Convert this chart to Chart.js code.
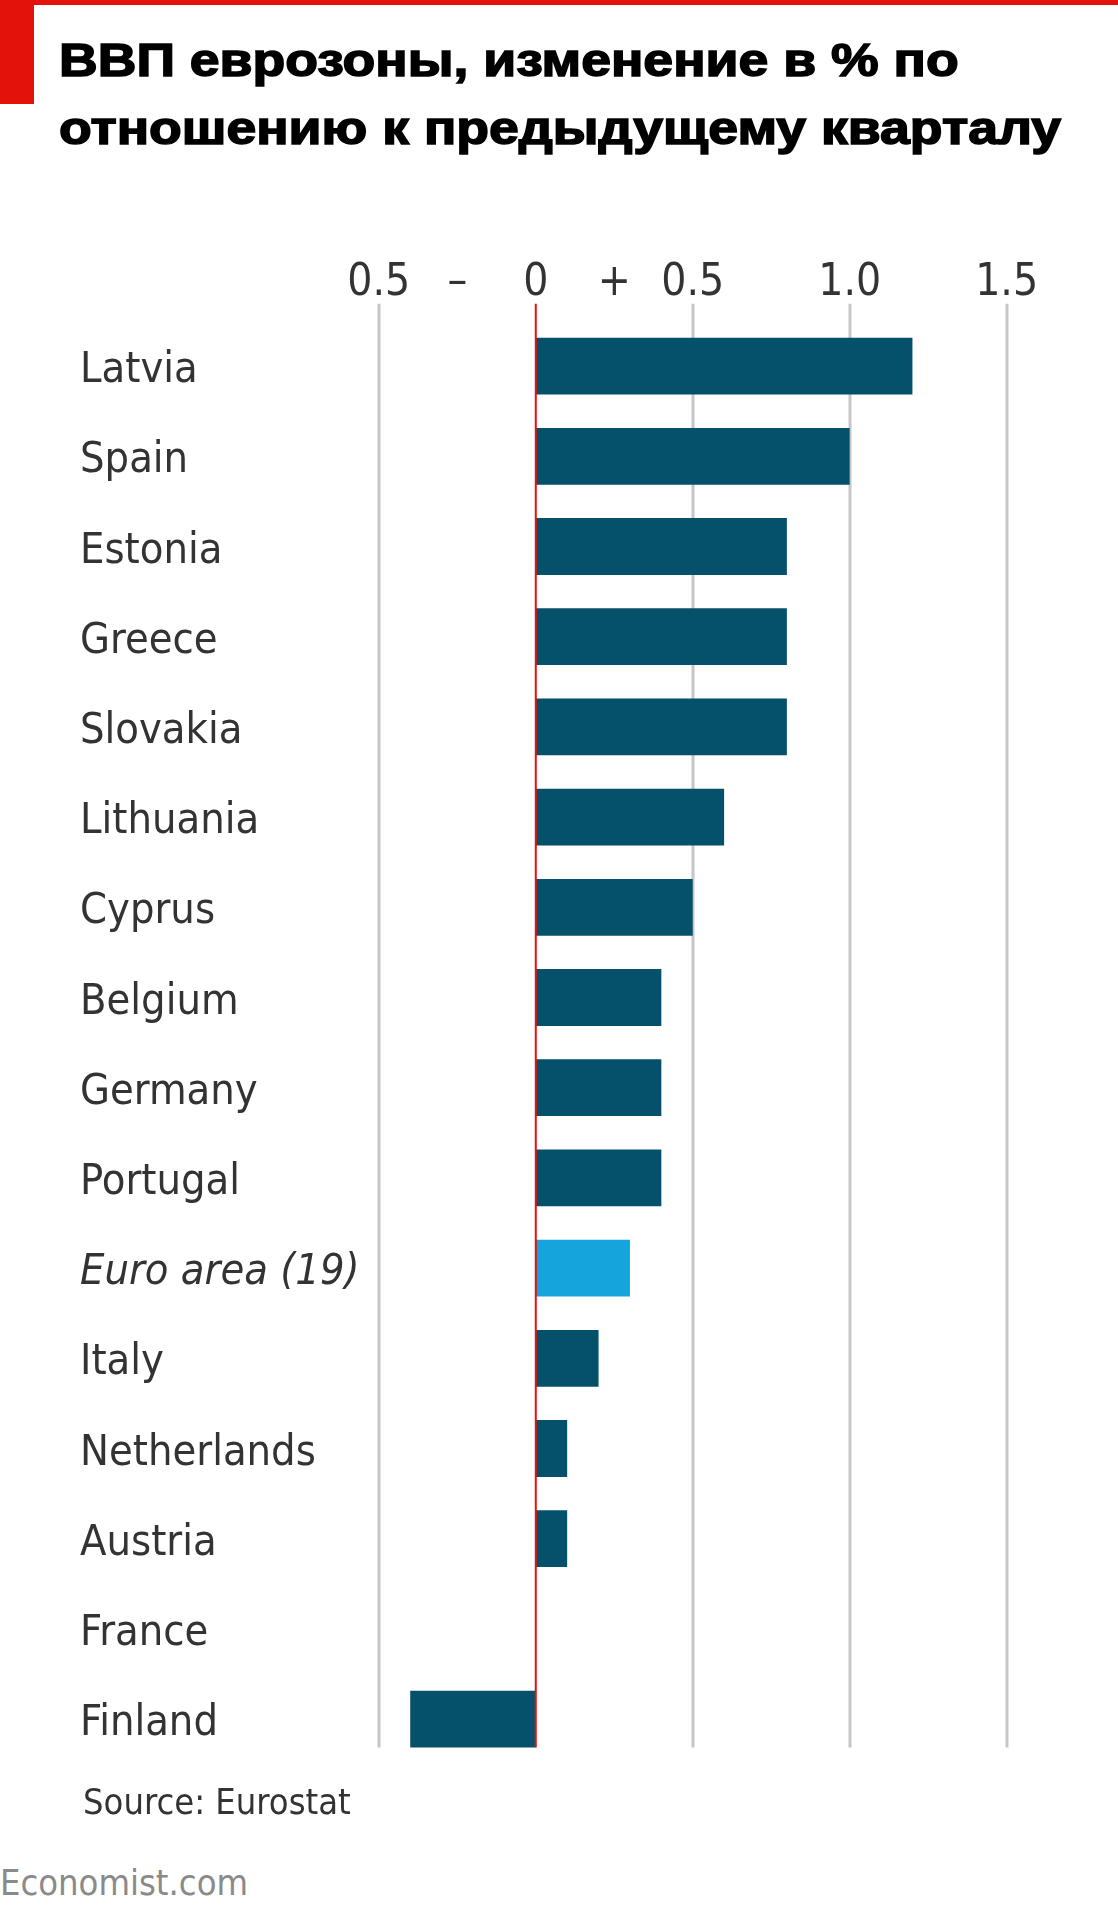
<!DOCTYPE html>
<html><head><meta charset="utf-8">
<script src="https://cdn.jsdelivr.net/npm/chart.js@4/dist/chart.umd.min.js"></script>
<style>
html,body{margin:0;padding:0;background:#fff;}
body{width:1118px;height:1920px;position:relative;overflow:hidden;}
#topbar{position:absolute;left:0;top:0;width:1118px;height:5px;background:#e3120b;}
#redblock{position:absolute;left:0;top:0;width:34px;height:104px;background:#e3120b;}
#title{position:absolute;left:59px;top:26px;font-family:"Liberation Sans",Arial,sans-serif;font-weight:bold;font-size:46px;line-height:68px;color:#000;-webkit-text-stroke:1.5px #000;white-space:nowrap;transform:scaleX(1.165);transform-origin:0 0;}
#chartwrap{position:absolute;left:0;top:200px;width:1118px;height:1590px;}
#source{position:absolute;left:83px;top:1780px;font-family:"DejaVu Sans Condensed","DejaVu Sans",sans-serif;font-size:36px;line-height:44px;color:#333;}
#brand{position:absolute;left:0;top:1861px;font-family:"DejaVu Sans Condensed","DejaVu Sans",sans-serif;font-size:36px;line-height:44px;color:#8a8a8a;}
</style>
</head><body>
<div id="topbar"></div>
<div id="redblock"></div>
<div id="title">ВВП еврозоны, изменение в % по<br>отношению к предыдущему кварталу</div>
<div id="chartwrap"><canvas id="c"></canvas></div>
<div id="source">Source: Eurostat</div>
<div id="brand">Economist.com</div>
<script>
const categories = ['Latvia','Spain','Estonia','Greece','Slovakia','Lithuania','Cyprus','Belgium','Germany','Portugal','Euro area (19)','Italy','Netherlands','Austria','France','Finland'];
const gdpChange = [1.2,1.0,0.8,0.8,0.8,0.6,0.5,0.4,0.4,0.4,0.3,0.2,0.1,0.1,0,-0.4];
const highlightCategory = 'Euro area (19)';
const tickValues = [-0.5,-0.25,0,0.25,0.5,1.0,1.5];
const tickLabels = ['0.5','–','0','+','0.5','1.0','1.5'];
const gridValues = [-0.5,0.5,1.0,1.5];

const DARK = '#05506b', LIGHT = '#14a5dc', GRID = '#c6c6c6', RED = '#e3120b', TXT = '#333333';
const FONT = '"DejaVu Sans Condensed","DejaVu Sans",sans-serif';

function gridExtent(chart) {
  const ys = chart.scales.y;
  const step = ys.getPixelForValue(1) - ys.getPixelForValue(0);
  return {
    top: ys.getPixelForValue(0) - 0.69 * step,
    bottom: ys.getPixelForValue(categories.length - 1) + 0.315 * step
  };
}

const gridPlugin = {
  id: 'customGrid',
  beforeDatasetsDraw(chart) {
    const xs = chart.scales.x, ctx = chart.ctx, e = gridExtent(chart);
    ctx.save();
    ctx.strokeStyle = GRID; ctx.lineWidth = 3;
    gridValues.forEach(v => {
      const x = Math.round(xs.getPixelForValue(v));
      ctx.beginPath(); ctx.moveTo(x, e.top); ctx.lineTo(x, e.bottom); ctx.stroke();
    });
    ctx.restore();
  },
  afterDatasetsDraw(chart) {
    const xs = chart.scales.x, ctx = chart.ctx, e = gridExtent(chart);
    ctx.save();
    ctx.strokeStyle = RED; ctx.lineWidth = 2;
    const x = xs.getPixelForValue(0);
    ctx.beginPath(); ctx.moveTo(x, e.top); ctx.lineTo(x, e.bottom); ctx.stroke();
    ctx.restore();
  }
};

new Chart(document.getElementById('c'), {
  type: 'bar',
  data: {
    labels: categories,
    datasets: [{
      data: gdpChange,
      backgroundColor: categories.map(c => c === highlightCategory ? LIGHT : DARK),
      borderWidth: 0,
      barPercentage: 0.63,
      categoryPercentage: 1.0
    }]
  },
  options: {
    indexAxis: 'y',
    responsive: true,
    maintainAspectRatio: false,
    animation: false,
    layout: { padding: { left: 80, right: 80, top: 0, bottom: 16 } },
    plugins: { legend: { display: false }, tooltip: { enabled: false } },
    scales: {
      x: {
        type: 'linear',
        position: 'top',
        min: -0.56, max: 1.6,
        afterBuildTicks: s => { s.ticks = tickValues.map(v => ({ value: v })); },
        afterFit: s => { s.height = 121; },
        grid: { display: false, drawTicks: false },
        border: { display: false },
        ticks: {
          autoSkip: false, maxRotation: 0, padding: 11,
          color: TXT, font: { family: FONT, size: 44 },
          callback: (v, i) => tickLabels[i]
        }
      },
      y: {
        type: 'category',
        afterFit: s => { s.width = 280; },
        grid: { display: false, drawTicks: false },
        border: { display: false },
        ticks: {
          crossAlign: 'far', padding: 0, color: TXT, labelOffset: 5,
          font: ctx => ({ family: FONT, size: 43, style: categories[ctx.index] === highlightCategory ? 'italic' : 'normal' })
        }
      }
    }
  },
  plugins: [gridPlugin]
});
</script>
</body></html>
